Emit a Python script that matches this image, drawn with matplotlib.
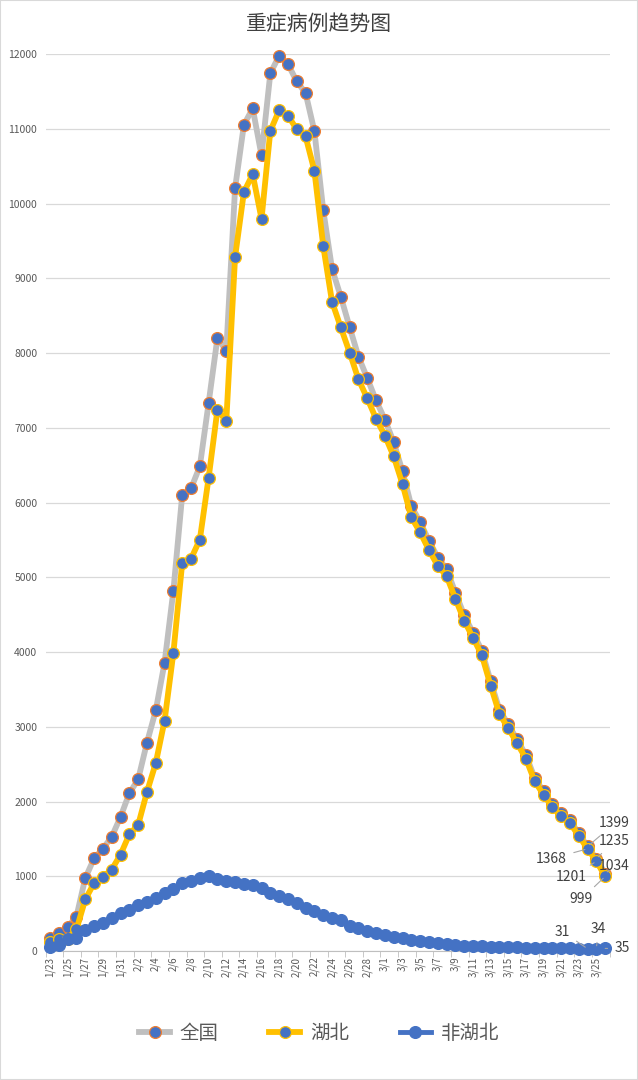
import matplotlib.pyplot as plt
import numpy as np

plt.rcParams['font.family'] = ['Noto Sans CJK SC', 'DejaVu Sans']

# dates 1/23 .. 3/26
dates = (["1/%d" % d for d in range(23, 32)] +
         ["2/%d" % d for d in range(1, 30)] +
         ["3/%d" % d for d in range(1, 27)])

national = [177, 237, 324, 461, 976, 1239, 1370, 1527, 1795,
            2110, 2296, 2788, 3219, 3859, 4821, 6101, 6188, 6484, 7333,
            8204, 8030, 10204, 11053, 11272, 10644, 11741, 11977, 11864,
            11633, 11477, 10968, 9915, 9126, 8752, 8346, 7952, 7664, 7365,
            7110, 6806, 6416, 5952, 5737, 5489, 5264, 5111, 4794, 4492,
            4257, 4020, 3610, 3226, 3032, 2830, 2622, 2314, 2136, 1963,
            1845, 1749, 1573, 1399, 1235, 1034]

hubei = [125, 160, 165, 290, 690, 910, 990, 1090, 1290,
         1561, 1686, 2128, 2514, 3084, 3991, 5191, 5248, 5504, 6333,
         7244, 7087, 9284, 10153, 10392, 9794, 10971, 11247, 11174,
         10993, 10897, 10438, 9435, 8686, 8342, 8006, 7647, 7394, 7120,
         6895, 6616, 6246, 5802, 5602, 5364, 5154, 5016, 4714, 4420,
         4191, 3958, 3552, 3171, 2980, 2780, 2575, 2270, 2094, 1923,
         1807, 1713, 1540, 1368, 1201, 999]

non_hubei = [52, 77, 159, 171, 286, 329, 380, 437, 505,
             549, 610, 660, 705, 775, 830, 910, 940, 980, 1000,
             960, 943, 920, 900, 880, 850, 770, 730, 690,
             640, 580, 530, 480, 440, 410, 340, 305, 270, 245,
             215, 190, 170, 150, 135, 125, 110, 95, 80, 72,
             66, 62, 58, 55, 52, 50, 47, 44, 42, 40,
             38, 36, 33, 31, 34, 35]

x = np.arange(len(dates))

fig = plt.figure(figsize=(6.38, 10.8), dpi=100)
ax = fig.add_axes([0.0715, 0.1194, 0.884, 0.8306])

BLUE = '#4472C4'
ax.plot(x, national, color='#BFBFBF', lw=4.2, marker='o', ms=8.5,
        mfc=BLUE, mec='#ED7D31', mew=0.9, label='全国', zorder=3, clip_on=False)
ax.plot(x, hubei, color='#FFC000', lw=4.2, marker='o', ms=8.5,
        mfc=BLUE, mec='#FFC000', mew=0.9, label='湖北', zorder=4, clip_on=False)
ax.plot(x, non_hubei, color=BLUE, lw=3.5, marker='o', ms=8.5,
        mfc=BLUE, mec=BLUE, mew=0.9, label='非湖北', zorder=5, clip_on=False)

ax.set_ylim(0, 12000)
ax.set_xlim(-0.5, len(dates) - 0.5)
ax.set_yticks(range(0, 12001, 1000))
ax.tick_params(axis='y', length=0, labelsize=7.5, labelcolor='#595959', pad=6)
ax.grid(axis='y', color='#D9D9D9', lw=0.9)
ax.set_axisbelow(True)

ax.set_xticks(x[::2])
ax.set_xticklabels(dates[::2], rotation=90, fontsize=7, color='#595959')
ax.set_xticks(np.arange(-0.5, len(dates), 2), minor=True)
ax.tick_params(axis='x', which='major', length=0, pad=4)
ax.tick_params(axis='x', which='minor', length=4, color='#BFBFBF')

for s in ['top', 'right', 'left']:
    ax.spines[s].set_visible(False)
ax.spines['bottom'].set_color('#BFBFBF')

# data labels for the last three days
px = 0.72
lbl = dict(textcoords='offset points', fontsize=10, color='#404040',
           ha='center', va='center', zorder=6,
           arrowprops=dict(arrowstyle='-', color='#A6A6A6', lw=0.8,
                           shrinkA=3, shrinkB=2))
offs_nat = [(27, 23), (18, 18), (9, 8)]
offs_hb = [(-36, -10), (-25, -16), (-24, -23)]
offs_nh = [(-25, 17), (2, 20), (17, 0)]
for series, offs in [(national, offs_nat), (hubei, offs_hb), (non_hubei, offs_nh)]:
    for k, (dx, dy) in enumerate(offs):
        i = len(dates) - 3 + k
        ax.annotate(str(series[i]), (x[i], series[i]),
                    xytext=(dx * px, dy * px), **lbl)

fig.text(0.5, 0.978, '重症病例趋势图', ha='center', va='center',
         fontsize=15, color='#404040', fontweight='medium')

leg = fig.legend(loc='center', bbox_to_anchor=(0.5, 0.043), ncol=3, frameon=False,
                 fontsize=14, handlelength=1.6, columnspacing=2.6, handletextpad=0.5)
for t in leg.get_texts():
    t.set_color('#595959')

fig.patches.append(plt.Rectangle((0, 0), 1, 1, transform=fig.transFigure,
                                 fill=False, ec='#D9D9D9', lw=1.5))

fig.savefig('out.png', dpi=100, facecolor='white')
